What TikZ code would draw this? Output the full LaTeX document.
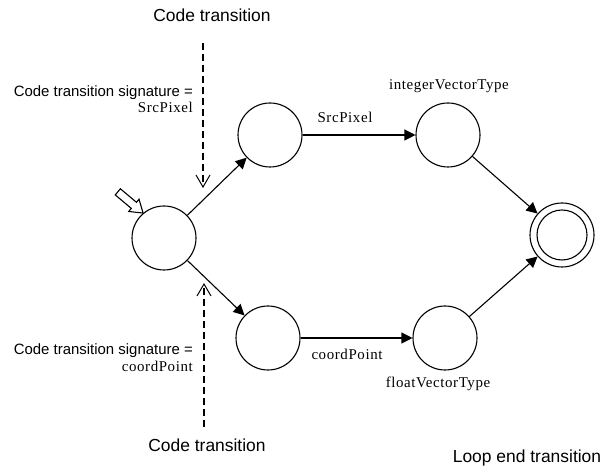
\documentclass[tikz,border=0pt]{standalone}
\usepackage{fontspec}
\setmainfont{Liberation Sans}
\newfontfamily\tnr[LetterSpace=4]{Liberation Serif}
\usetikzlibrary{arrows.meta}

\begin{document}
\begin{tikzpicture}[x=1bp, y=1bp,
  statenode/.style={draw, circle, line width=1.1bp, minimum size=64bp, inner sep=0pt},
  trans/.style={-{Triangle[length=11bp,width=11bp]}, line width=1.1bp},
  codearrow/.style={-{Straight Barb[length=12bp,width=14bp,line width=1bp]}, line width=2bp, dash pattern=on 7bp off 4bp},
  sig/.style={font=\fontsize{15}{16}\selectfont, inner sep=0pt, anchor=base east},
  sigval/.style={font=\fontsize{15}{16}\selectfont\tnr, inner sep=0pt, anchor=base east},
  lbl/.style={font=\fontsize{15}{16}\selectfont\tnr, inner sep=0pt, anchor=base},
  big/.style={font=\fontsize{17.5}{19}\selectfont, inner sep=0pt, anchor=base}]
\useasboundingbox (0,0) rectangle (605,470);
% states
\node[statenode] (start) at (164,232) {};
\node[statenode] (src) at (270,335) {};
\node[statenode] (coord) at (268,132) {};
\node[statenode] (intv) at (448,335) {};
\node[statenode] (floatv) at (445,132) {};
\node[statenode] (final) at (562,235) {};
\draw[line width=1.1bp] (final.center) circle[radius=25bp];
% transitions
\draw[trans] (start) -- (src);
\draw[trans] (start) -- (coord);
\draw[trans] (src) -- (intv);
\draw[trans] (coord) -- (floatv);
\draw[trans] (intv) -- (final);
\draw[trans] (floatv) -- (final);
% entry arrow
\draw[line width=1.1bp, fill=white, shift={(start.130)}, rotate=-40]
  (0,0) -- (-12,8) -- (-12,4) -- (-33,4) -- (-33,-4) -- (-12,-4) -- (-12,-8) -- cycle;
% labels
\node[lbl] (srclbl) at (345,347) {SrcPixel};
\node[lbl] (coordlbl) at (347,110) {coordPoint};
\node[lbl] (intvlbl) at (449,380) {integerVectorType};
\node[lbl] (floatvlbl) at (438,82) {floatVectorType};
\node[big] (loopend) at (527,7) {Loop end transition};
% code transitions
\node[big] (codetop) at (212,448) {Code transition};
\node[sig] (sigtop) at (193,373) {Code transition signature =};
\node[sigval] (sigtopval) at (193,357) {SrcPixel};
\coordinate (ctopstart) at (203,427);
\coordinate (ctopend) at (203,282);
\draw[codearrow] (ctopstart) -- (ctopend);
\node[big] (codebot) at (207,18) {Code transition};
\node[sig] (sigbot) at (193,115) {Code transition signature =};
\node[sigval] (sigbotval) at (193,98) {coordPoint};
\coordinate (cbotstart) at (204,43);
\coordinate (cbotend) at (204,187);
\draw[codearrow] (cbotstart) -- (cbotend);
\end{tikzpicture}
\end{document}
